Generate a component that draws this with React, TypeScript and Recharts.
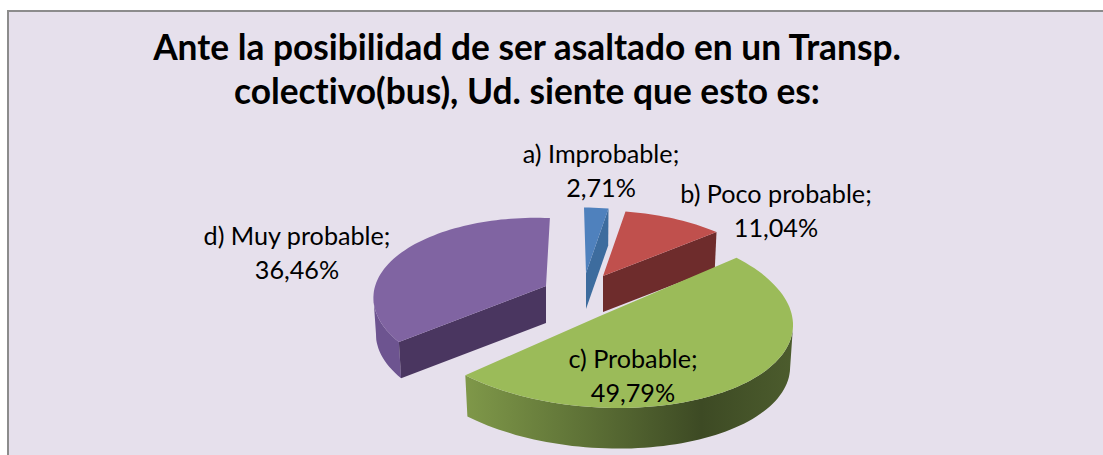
import { Pie, PieChart } from "recharts";

const categories = ["a) Improbable", "b) Poco probable", "c) Probable", "d) Muy probable"];
const percents = [2.71, 11.04, 49.79, 36.46];

const topColors = ["#4F81BD", "#C0504D", "#9BBB59", "#8064A2"];
const cutColors = ["#3D6C9E", "#6E2C2C", "#4A5A2C", "#4A3660"];
const wallColors = ["#3D6C9E", "#8A3B39", "url(#greenWall)", "#6D5490"];

// where each exploded slice sits relative to the pie centre
const explodeX = [0, 17, 14, -40];
const explodeY = [-27, -24, 16, -14];

// each exploded slice is seen under a slightly different perspective
const backView = { a: 170, b: -11, c: 7, d: 77, q: 0.18, depth: 36 };
const nearView = { a: 193, b: 0, c: 9, d: 91.5, q: 0, depth: 42 };
const leftView = { a: 165.6, b: -17.6, c: 11.7, d: 79.5, q: 0.18, depth: 37 };
const views = [backView, backView, nearView, leftView];
const floorScale = 0.985;

const labelX = [15, 190, 47, -289];
const labelY = [-137, -97, 68, -55];

const chartData = categories.map((name, i) => ({ name, value: percents[i] }));

const rad = Math.PI / 180;

const Slice3D = (props: any) => {
  const { cx, cy, startAngle, endAngle } = props;
  const i = categories.indexOf(props.name ?? props.payload?.name);
  const v = views[i];
  const ox = cx + explodeX[i];
  const oy = cy + explodeY[i];

  const project = (deg: number, r = 1) => {
    const x = r * Math.cos(deg * rad);
    const y = -r * Math.sin(deg * rad);
    const w = 1 - v.q * y;
    return [ox + (v.a * x + v.b * y) / w, oy + (v.c * x + v.d * y) / w];
  };

  const arc: number[][] = [];
  const steps = Math.max(2, Math.ceil(Math.abs(endAngle - startAngle) / 2));
  for (let s = 0; s <= steps; s++) {
    arc.push(project(startAngle + ((endAngle - startAngle) * s) / steps));
  }
  const poly = (pts: number[][]) =>
    "M" + pts.map((p) => `${p[0].toFixed(1)},${p[1].toFixed(1)}`).join("L") + "Z";
  const down = (p: number[]) => [
    ox + (p[0] - ox) * floorScale,
    oy + (p[1] - oy) * floorScale + v.depth,
  ];

  const first = arc[0];
  const last = arc[arc.length - 1];
  const apex = [ox, oy];
  const mid = project((startAngle + endAngle) / 2, 0.5);

  // going clockwise, x only falls along the front of the rim
  const frontRim = arc.filter(
    (p, k) => (k < arc.length - 1 && arc[k + 1][0] < p[0]) || (k > 0 && arc[k - 1][0] > p[0])
  );

  // a cut face only shows when the top of the slice lies above its edge
  const cutVisible = (p: number[]) => {
    const dx = p[0] - ox;
    const dy = p[1] - oy;
    if (Math.abs(dy) > Math.abs(dx) * 4) return false;
    return mid[1] < oy + (dy * (mid[0] - ox)) / dx;
  };

  return (
    <g>
      <defs>
        <linearGradient id="greenWall" x1="0" y1="0" x2="1" y2="0">
          <stop offset="0" stopColor="#7F9849" />
          <stop offset="0.35" stopColor="#5F7337" />
          <stop offset="0.72" stopColor="#3D4A24" />
          <stop offset="1" stopColor="#4C5C2D" />
        </linearGradient>
      </defs>
      {frontRim.length > 1 && (
        <path
          d={poly([...frontRim, ...frontRim.slice().reverse().map(down)])}
          fill={wallColors[i]}
        />
      )}
      {cutVisible(first) && (
        <path d={poly([apex, first, down(first), down(apex)])} fill={cutColors[i]} />
      )}
      {cutVisible(last) && (
        <path d={poly([apex, last, down(last), down(apex)])} fill={cutColors[i]} />
      )}
      <path d={poly([apex, ...arc])} fill={topColors[i]} />
    </g>
  );
};

const SliceLabel = (props: any) => {
  const { cx, cy, index } = props;
  const x = cx + labelX[index];
  const y = cy + labelY[index];
  return (
    <text
      x={x}
      y={y}
      textAnchor="middle"
      fill="#000"
      style={{ fontFamily: "Lato, sans-serif", fontSize: 25.2 }}
    >
      <tspan x={x}>{categories[index]};</tspan>
      <tspan x={x} dy={34}>
        {percents[index].toFixed(2).replace(".", ",")}%
      </tspan>
    </text>
  );
};

export default function App() {
  return (
    <div
      style={{
        position: "absolute",
        left: 0,
        top: 0,
        width: 1103,
        height: 455,
        background: "#fff",
        overflow: "hidden",
      }}
    >
      <div
        style={{
          position: "absolute",
          left: 7,
          top: 10,
          width: 1200,
          height: 600,
          background: "#E6E0EC",
          borderLeft: "2px solid #8C8C8C",
          borderTop: "2px solid #8C8C8C",
        }}
      />
      <div
        style={{
          position: "absolute",
          left: 27,
          top: 25,
          width: 1000,
          textAlign: "center",
          fontFamily: "Lato, sans-serif",
          fontWeight: 700,
          fontSize: 35.3,
          lineHeight: "44px",
          fontVariantLigatures: "none",
          color: "#000",
        }}
      >
        Ante la posibilidad de ser asaltado en un Transp.
        <br />
        colectivo(bus), Ud. siente que esto es:
      </div>
      <div style={{ position: "absolute", left: 0, top: 0 }}>
        <PieChart width={1103} height={455} margin={{ top: 0, right: 0, bottom: 0, left: 0 }}>
          <Pie
            data={chartData}
            dataKey="value"
            nameKey="name"
            cx={586}
            cy={300}
            outerRadius={100}
            startAngle={94.5}
            endAngle={-265.5}
            shape={Slice3D}
            label={SliceLabel}
            labelLine={false}
            stroke="none"
            isAnimationActive={false}
          />
        </PieChart>
      </div>
    </div>
  );
}
